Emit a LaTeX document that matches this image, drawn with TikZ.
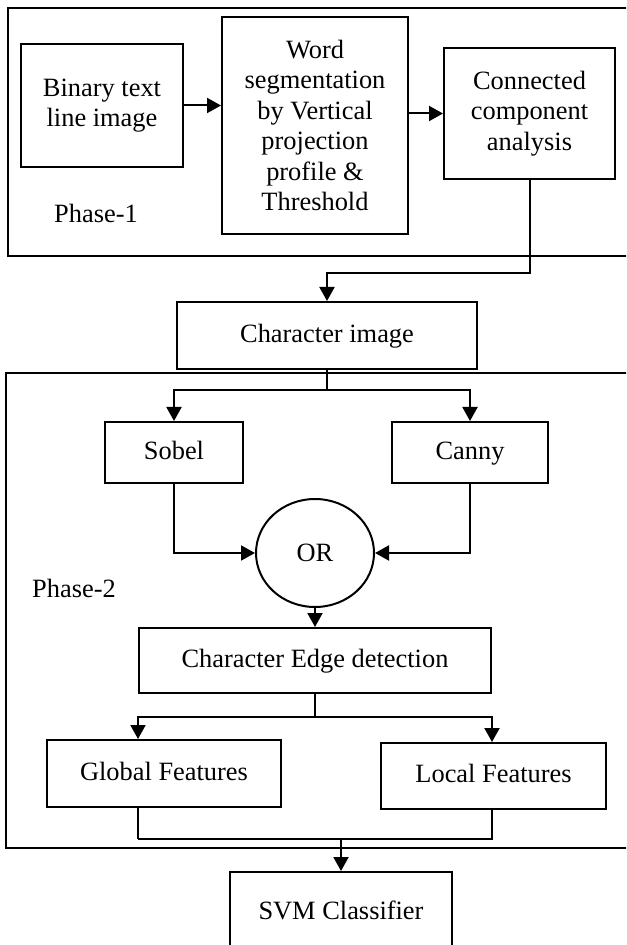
\documentclass[tikz,border=0pt]{standalone}
\usepackage{fontspec}
\setmainfont{Liberation Serif}
\usepackage{tikz}
\usetikzlibrary{arrows.meta,positioning,shapes.geometric,calc}

\tikzset{
  blockbox/.style={rectangle, draw=black, line width=1pt, align=center, inner sep=0pt},
  onelinebox/.style={blockbox, text height=0.7em, text depth=0.04em},
  phasebox/.style={draw=black, line width=1.05pt},
  flowarrow/.style={line width=1pt, -{Triangle[length=7pt, width=7.5pt]}},
  flowline/.style={line width=1pt}
}

\begin{document}
\begin{tikzpicture}[x=0.5pt, y=-0.5pt, font=\fontsize{13.2}{15.2}\selectfont]
  \useasboundingbox (0,0) rectangle (626,945);
  \clip (0,0) rectangle (626,945);

  \draw[phasebox] (8,8) rectangle (640,256);
  \node (phaseone) at (96,213) {Phase-1};
  \node[blockbox, minimum width=81pt, minimum height=61.5pt] (binary) at (102,105.5)
    {Binary text\\line image};
  \node[blockbox, minimum width=93pt, minimum height=108.5pt] (word) at (315,125.5)
    {Word\\segmentation\\by Vertical\\projection\\profile \&\\Threshold};
  \node[blockbox, minimum width=85.5pt, minimum height=65.5pt] (conn) at (529.5,113.5)
    {Connected\\component\\analysis};

  \node[onelinebox, minimum width=150pt, minimum height=33.5pt] (charimg) at (327,335.5)
    {Character image};

  \draw[phasebox] (6,373) rectangle (640,848);
  \node (phasetwo) at (74,588) {Phase-2};
  \node[onelinebox, minimum width=69pt, minimum height=30.5pt] (sobel) at (174,452.5) {Sobel};
  \node[onelinebox, minimum width=78pt, minimum height=30.5pt] (canny) at (470,452.5) {Canny};
  \node[ellipse, draw=black, line width=1pt, inner sep=0pt,
        minimum width=59pt, minimum height=54pt] (or) at (315,553) {OR};
  \node[onelinebox, minimum width=176pt, minimum height=32.5pt] (edge) at (315,660.5)
    {Character Edge detection};
  \node[onelinebox, minimum width=117pt, minimum height=33.5pt] (glob) at (164,773.5)
    {Global Features};
  \node[onelinebox, minimum width=112.5pt, minimum height=33pt] (local) at (493.5,776)
    {Local Features};

  \node[onelinebox, minimum width=111pt, minimum height=41pt] (svm) at (341,913)
    {SVM Classifier};

  \draw[flowarrow] (binary.east) -- (binary.east -| word.west);
  \draw[flowarrow] (word.east |- conn.west) -- (conn.west);
  \draw[flowarrow] (conn.south) -- ++(0,93) -| (charimg.north);

  \draw[flowline] (charimg.south) -- ++(0,20) coordinate (splitone);
  \draw[flowarrow] (splitone) -| (sobel.north);
  \draw[flowarrow] (splitone) -| (canny.north);
  \draw[flowarrow] (sobel.south) |- (or.west);
  \draw[flowarrow] (canny.south) |- (or.east);
  \draw[flowarrow] (or.south) -- (edge.north);

  \draw[flowline] (edge.south) -- ++(0,23) coordinate (splittwo);
  \draw[flowarrow] (splittwo) -| (glob.north -| edge.west);
  \draw[flowarrow] (splittwo) -| (local.north -| edge.east);

  \draw[flowline] (glob.south -| edge.west) -- ++(0,31) coordinate (joinleft);
  \draw[flowline] (local.south -| edge.east) |- (joinleft);
  \draw[flowarrow] (joinleft -| svm.north) -- (svm.north);
\end{tikzpicture}
\end{document}
